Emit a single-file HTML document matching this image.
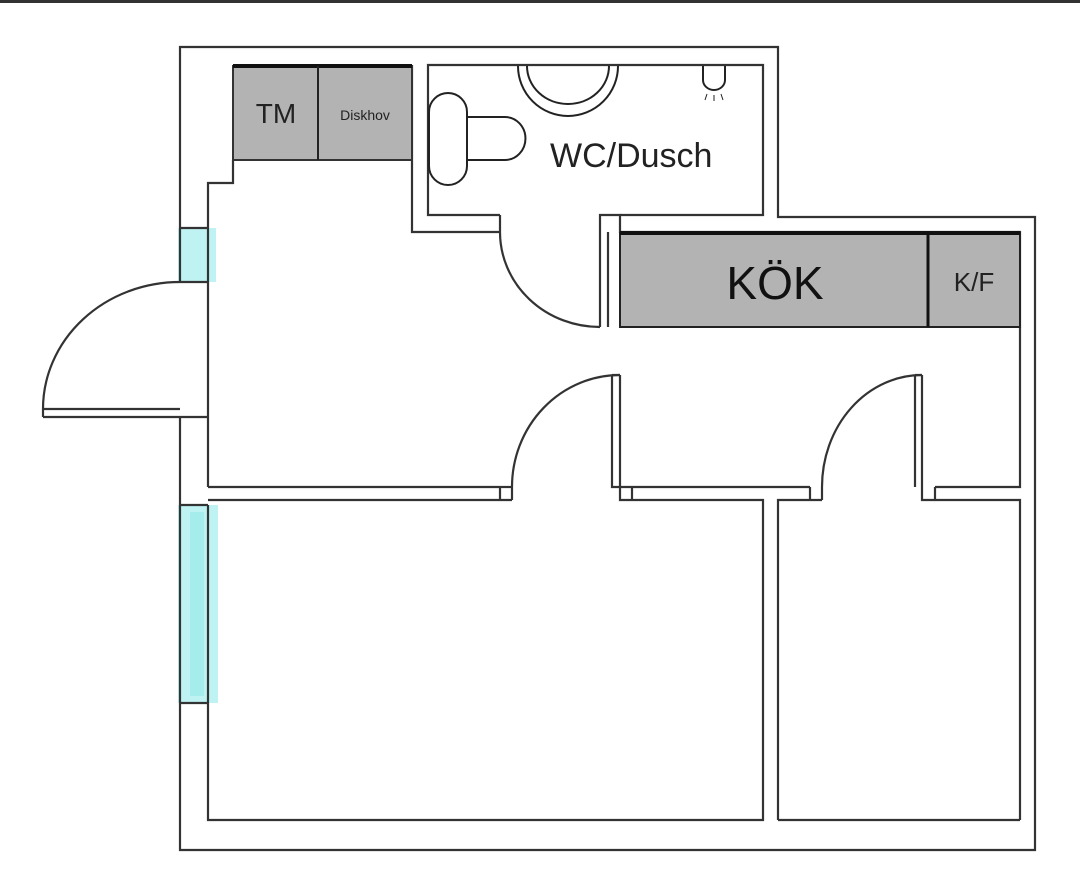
<!DOCTYPE html>
<html><head><meta charset="utf-8"><style>body{margin:0;background:#fff}svg{display:block}</style></head>
<body>
<svg width="1080" height="883" viewBox="0 0 1080 883" xmlns="http://www.w3.org/2000/svg" font-family="Liberation Sans, Arial, sans-serif">
<rect x="0" y="0" width="1080" height="3" fill="#333"/>
<!-- windows -->
<rect x="178" y="228" width="38" height="54" fill="#bff3f3"/>
<rect x="178" y="505" width="40" height="198" fill="#bff3f3"/>
<rect x="190" y="512" width="14" height="184" fill="#a5ecec"/>
<g fill="none" stroke="#333" stroke-width="2.2">
<!-- outer walls -->
<polyline points="180,282 180,47 778,47 778,217 1035,217 1035,850 180,850 180,417"/>
<!-- inner left -->
<polyline points="208,282 208,183 233,183 233,160"/>
<line x1="208" y1="282" x2="208" y2="487"/>
<line x1="180" y1="417" x2="208" y2="417"/>
<line x1="180" y1="409" x2="43" y2="409"/>
<line x1="180" y1="417" x2="43" y2="417"/>
<line x1="43" y1="409" x2="43" y2="417"/>
<path d="M43,409 A137,127 0 0 1 180,282"/>
<line x1="180" y1="282" x2="208" y2="282"/>
<!-- TM/Diskhov block wall -->
<polyline points="412,65 412,232 500,232"/>
<!-- bathroom -->
<polyline points="500,215 428,215 428,65 763,65 763,215 620,215"/>
<line x1="500" y1="215" x2="500" y2="232"/>
<polyline points="600,327 600,215 620,215 620,232 1020,232 1020,487 935,487"/>
<line x1="608" y1="232" x2="608" y2="327"/>
<path d="M500,232 A100,95 0 0 0 600,327"/>
<!-- horizontal wall -->
<line x1="208" y1="487" x2="500" y2="487"/>
<line x1="208" y1="500" x2="512" y2="500"/>
<line x1="500" y1="487" x2="512" y2="487"/>
<line x1="500" y1="487" x2="500" y2="500"/>
<line x1="512" y1="487" x2="512" y2="500"/>
<path d="M512,487 A108,112 0 0 1 620,375"/>
<polyline points="612,375 612,487 810,487"/>
<line x1="620" y1="375" x2="620" y2="487"/>
<line x1="612" y1="375" x2="620" y2="375"/>
<polyline points="620,487 620,500 763,500 763,820 208,820 208,505"/>
<line x1="632" y1="487" x2="632" y2="500"/>
<polyline points="778,820 778,500 822,500"/>
<line x1="778" y1="820" x2="1020" y2="820"/>
<polyline points="1020,820 1020,500 935,500"/>
<line x1="810" y1="487" x2="810" y2="500"/>
<line x1="822" y1="487" x2="822" y2="500"/>
<path d="M822,487 A100,112 0 0 1 922,375"/>
<line x1="915" y1="375" x2="915" y2="487"/>
<line x1="922" y1="375" x2="922" y2="487"/>
<line x1="915" y1="375" x2="922" y2="375"/>
<polyline points="922,487 922,500 935,500"/>
<line x1="935" y1="487" x2="935" y2="500"/>
<line x1="180" y1="505" x2="208" y2="505"/>
<line x1="180" y1="703" x2="208" y2="703"/>
<line x1="180" y1="228" x2="208" y2="228"/>
</g>
<!-- TM / Diskhov -->
<rect x="233" y="66" width="179" height="94" fill="#b3b3b3" stroke="#333" stroke-width="2"/>
<rect x="233" y="64" width="179" height="4" fill="#111"/>
<line x1="318" y1="66" x2="318" y2="160" stroke="#222" stroke-width="2"/>
<text x="276" y="123" font-size="28" text-anchor="middle" fill="#222">TM</text>
<text x="365" y="120" font-size="14" text-anchor="middle" fill="#222">Diskhov</text>
<!-- kitchen -->
<rect x="620" y="233" width="400" height="94" fill="#b3b3b3" stroke="#222" stroke-width="2"/>
<rect x="620" y="231" width="400" height="4" fill="#111"/>
<line x1="928" y1="233" x2="928" y2="327" stroke="#111" stroke-width="3"/>
<text x="775" y="299" font-size="46" text-anchor="middle" fill="#111">KÖK</text>
<text x="974" y="291" font-size="26" text-anchor="middle" fill="#222">K/F</text>
<!-- toilet -->
<g fill="none" stroke="#222" stroke-width="2">
<rect x="429" y="93" width="38" height="92" rx="19"/>
<path d="M467,117 H505 A20,21 0 0 1 505,160 H467"/>
<path d="M518,66 A50,50 0 0 0 618,66"/>
<path d="M527,66 A41,38 0 0 0 609,66"/>
<path d="M703,66 V80 A11,10 0 0 0 725,80 V66"/>
<path d="M707,94 L705,100 M714,95 V101 M721,94 L723,100" stroke-width="1"/>
</g>
<text x="550" y="167" font-size="34" fill="#222">WC/Dusch</text>
</svg>
</body></html>
